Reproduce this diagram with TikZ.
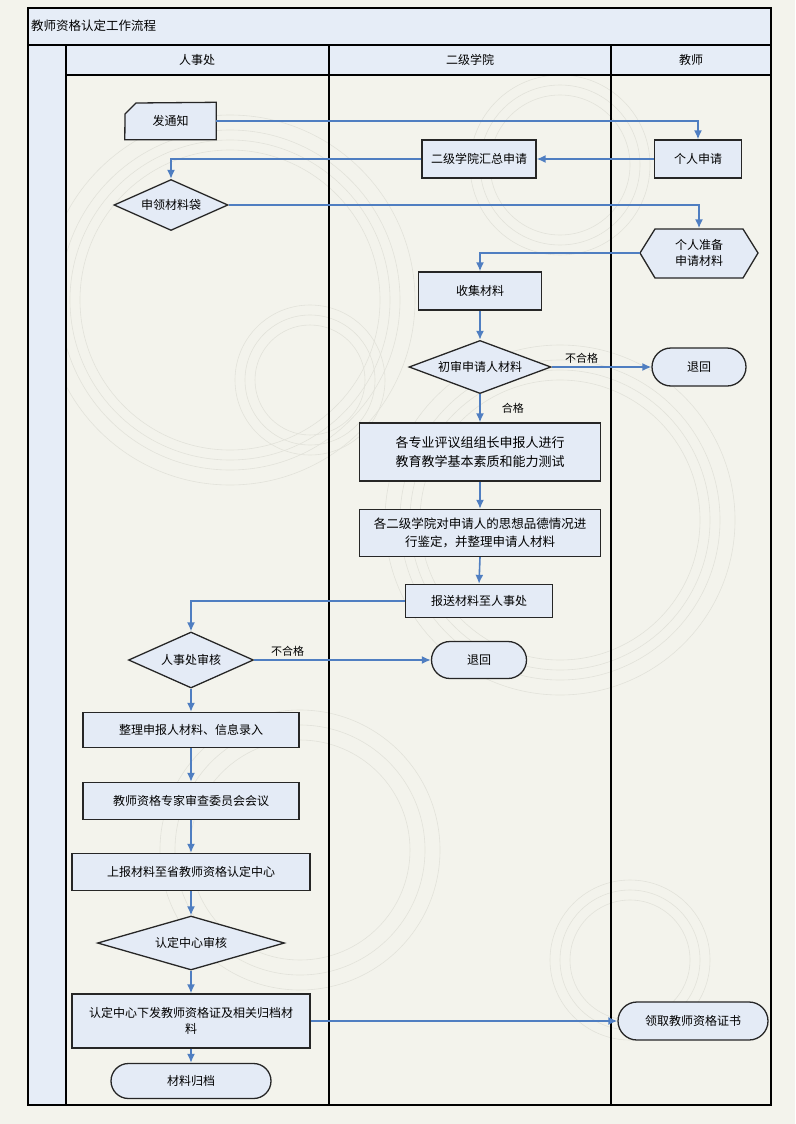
\documentclass[tikz,border=0pt]{standalone}
\usepackage{fontspec}
\setmainfont{Noto Sans CJK SC}
\usetikzlibrary{shapes.geometric,shapes.misc,arrows.meta}
\definecolor{pagebg}{HTML}{F3F3EC}
\definecolor{headbg}{HTML}{E6EDF7}
\definecolor{nodebg}{HTML}{E4EBF6}
\definecolor{arrowc}{HTML}{4F7EC1}
\definecolor{ringc}{HTML}{E2E2DA}
\tikzset{
  lane/.style={line width=1.8pt,draw=black},
  boxnode/.style={rectangle,draw=black!85,line width=1.3pt,fill=nodebg,inner sep=0pt,align=center,font=\fontsize{12}{16}\selectfont},
  dianode/.style={diamond,aspect=2,draw=black!85,line width=1.3pt,fill=nodebg,inner sep=0pt,align=center,font=\fontsize{12}{16}\selectfont},
  stadnode/.style={rounded rectangle,draw=black!85,line width=1.3pt,fill=nodebg,inner sep=0pt,align=center,font=\fontsize{12}{16}\selectfont},
  ghost/.style={rectangle,draw=none,inner sep=0pt,align=center,font=\fontsize{12}{16}\selectfont},
  flow/.style={draw=arrowc,line width=1.6pt,-{Latex[length=9pt,width=8pt]}},
  lbl/.style={font=\fontsize{11}{13}\selectfont,inner sep=1pt},
  ring/.style={draw=ringc,line width=0.6pt}
}
\begin{document}
\begin{tikzpicture}[x=1pt,y=-1pt]
\useasboundingbox (0,0) rectangle (795,1124);
\fill[pagebg] (0,0) rectangle (795,1124);
% decorative rings
\foreach \r in {150,160,170,185}{\draw[ring] (230,300) circle (\r);}
\foreach \r in {70,80,90}{\draw[ring] (560,165) circle (\r);}
\foreach \r in {55,65,75}{\draw[ring] (310,380) circle (\r);}
\foreach \r in {140,150,160,175}{\draw[ring] (560,520) circle (\r);}
\foreach \r in {110,125,140}{\draw[ring] (300,850) circle (\r);}
\foreach \r in {60,70,80}{\draw[ring] (630,960) circle (\r);}
% header & lanes
\fill[headbg] (28,8) rectangle (771,45);
\fill[headbg] (28,45) rectangle (771,75);
\fill[headbg] (28,75) rectangle (66,1105);
\draw[lane] (28,8) rectangle (771,1105);
\draw[lane] (28,45) -- (771,45);
\draw[lane] (66,75) -- (771,75);
\draw[lane] (66,45) -- (66,1105);
\draw[lane] (329,45) -- (329,1105);
\draw[lane] (611,45) -- (611,1105);
\node[anchor=west,inner sep=0pt,font=\fontsize{12.5}{14}\selectfont] (title) at (31,26) {教师资格认定工作流程};
\node[font=\fontsize{12}{14}\selectfont] (h1) at (197,60) {人事处};
\node[font=\fontsize{12}{14}\selectfont] (h2) at (470,60) {二级学院};
\node[font=\fontsize{12}{14}\selectfont] (h3) at (691,60) {教师};
% nodes
\node[ghost,minimum width=91pt,minimum height=37pt] (notice) at (170.5,121) {};
\filldraw[fill=nodebg,draw=black!85,line width=1.3pt] (notice.south west) -- (125,114) -- (136,103) -- (notice.north east) -- (notice.south east) -- cycle;
\node[ghost] at (notice) {发通知};
\node[boxnode,minimum width=87pt,minimum height=38pt] (apply) at (698,159) {个人申请};
\node[boxnode,minimum width=114pt,minimum height=38pt] (collect1) at (479,159) {二级学院汇总申请};
\node[dianode,minimum width=114pt,minimum height=51pt] (bag) at (171,205) {申领材料袋};
\node[ghost,minimum width=118pt,minimum height=49pt] (prep) at (699,253) {};
\filldraw[fill=nodebg,draw=black!85,line width=1.3pt] (640,253) -- (655,229) -- (743,229) -- (758,253) -- (743,278) -- (655,278) -- cycle;
\node[ghost] at (prep) {个人准备\\申请材料};
\node[boxnode,minimum width=123pt,minimum height=38pt] (gather) at (480,291) {收集材料};
\node[dianode,minimum width=142pt,minimum height=53pt] (check1) at (480,367) {初审申请人材料};
\node[stadnode,minimum width=94pt,minimum height=38pt] (ret1) at (699,367) {退回};
\node[boxnode,minimum width=241pt,minimum height=58pt,font=\fontsize{13}{19}\selectfont] (test) at (480,452) {各专业评议组组长申报人进行\\教育教学基本素质和能力测试};
\node[boxnode,minimum width=241pt,minimum height=47pt,font=\fontsize{12.5}{18}\selectfont] (moral) at (480,533) {各二级学院对申请人的思想品德情况进\\行鉴定，并整理申请人材料};
\node[boxnode,minimum width=147pt,minimum height=33pt] (send) at (479,601) {报送材料至人事处};
\node[dianode,minimum width=125pt,minimum height=56pt] (check2) at (191,660) {人事处审核};
\node[stadnode,minimum width=95pt,minimum height=37pt] (ret2) at (479,660) {退回};
\node[boxnode,minimum width=216pt,minimum height=35pt] (input) at (191,730) {整理申报人材料、信息录入};
\node[boxnode,minimum width=216pt,minimum height=37pt] (meet) at (191,801) {教师资格专家审查委员会会议};
\node[boxnode,minimum width=238pt,minimum height=37pt] (report) at (191,872) {上报材料至省教师资格认定中心};
\node[dianode,minimum width=187pt,minimum height=54pt] (check3) at (191,943) {认定中心审核};
\node[boxnode,minimum width=238pt,minimum height=54pt] (issue) at (191,1021) {认定中心下发教师资格证及相关归档材\\料};
\node[stadnode,minimum width=160pt,minimum height=35pt] (archive) at (191,1081) {材料归档};
\node[stadnode,minimum width=150pt,minimum height=38pt] (receive) at (693,1021) {领取教师资格证书};
% connectors
\draw[flow] (notice.east) -| (apply.north);
\draw[flow] (apply.west) -- (collect1.east);
\draw[flow] (collect1.west) -| (bag.north);
\draw[flow] (bag.east) -| (prep.north);
\draw[flow] (prep.west) -| (gather.north);
\draw[flow] (gather.south) -- (check1.north);
\draw[flow] (check1.east) -- node[lbl,above,pos=0.3,yshift=2pt] (nq1) {不合格} (ret1.west);
\draw[flow] (check1.south) -- node[lbl,right,xshift=20pt,pos=0.5] (q1) {合格} (test.north);
\draw[flow] (test.south) -- (moral.north);
\draw[flow] (moral.south) -- (send.north);
\draw[flow] (send.west) -| (check2.north);
\draw[flow] (check2.east) -- node[lbl,above,pos=0.19,yshift=2pt] (nq2) {不合格} (ret2.west);
\draw[flow] (check2.south) -- (input.north);
\draw[flow] (input.south) -- (meet.north);
\draw[flow] (meet.south) -- (report.north);
\draw[flow] (report.south) -- (check3.north);
\draw[flow] (check3.south) -- (issue.north);
\draw[flow] (issue.east) -- (receive.west);
\draw[flow] (issue.south) -- (archive.north);
\end{tikzpicture}
\end{document}
